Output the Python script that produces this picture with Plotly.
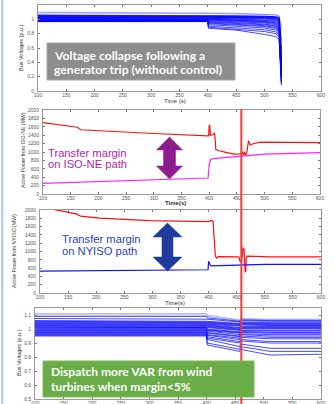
import plotly.graph_objects as go

W, H = 334, 404

# ---------------- data ----------------
TICKS_X = [100, 150, 200, 250, 300, 350, 400, 450, 500, 550, 600]

# Panel 1: bus voltages, voltage collapse (no control)
P1_T = [100, 400, 401, 450, 500, 520, 526, 530]
P1_V = [
    [1.100, 1.100, 1.090, 1.085, 1.075, 1.065, 1.050, 0.90],
    [1.090, 1.090, 1.080, 1.075, 1.070, 1.060, 1.040, 0.85],
    [1.060, 1.060, 1.055, 1.050, 1.045, 1.040, 1.030, 0.70],
    [1.055, 1.055, 1.050, 1.045, 1.040, 1.035, 1.020, 0.60],
    [1.050, 1.050, 1.045, 1.040, 1.035, 1.030, 1.010, 0.55],
    [1.045, 1.045, 1.040, 1.035, 1.030, 1.025, 1.000, 0.50],
    [1.040, 1.040, 1.035, 1.030, 1.025, 1.020, 0.990, 0.46],
    [1.035, 1.035, 1.030, 1.025, 1.020, 1.010, 0.980, 0.45],
    [1.030, 1.030, 1.025, 1.020, 1.015, 1.005, 0.970, 0.40],
    [1.025, 1.025, 1.020, 1.015, 1.005, 0.995, 0.960, 0.38],
    [1.020, 1.020, 1.015, 1.005, 0.995, 0.985, 0.950, 0.35],
    [1.015, 1.015, 1.005, 0.995, 0.985, 0.970, 0.930, 0.33],
    [1.010, 1.010, 1.000, 0.990, 0.975, 0.960, 0.920, 0.30],
    [1.005, 1.005, 0.995, 0.985, 0.970, 0.950, 0.900, 0.28],
    [1.000, 1.000, 0.990, 0.975, 0.960, 0.940, 0.890, 0.26],
    [0.995, 0.995, 0.980, 0.965, 0.950, 0.925, 0.870, 0.24],
    [0.990, 0.990, 0.970, 0.955, 0.935, 0.910, 0.860, 0.22],
    [0.985, 0.985, 0.960, 0.945, 0.925, 0.900, 0.850, 0.20],
    [0.980, 0.980, 0.950, 0.935, 0.910, 0.885, 0.840, 0.18],
    [0.978, 0.978, 0.940, 0.925, 0.900, 0.870, 0.820, 0.16],
    [0.975, 0.975, 0.925, 0.905, 0.880, 0.850, 0.800, 0.14],
    [0.972, 0.972, 0.905, 0.885, 0.855, 0.825, 0.780, 0.12],
    [0.970, 0.970, 0.890, 0.865, 0.830, 0.800, 0.755, 0.10],
    [0.968, 0.968, 0.875, 0.850, 0.790, 0.760, 0.720, 0.08],
]

# Panel 2: active power from ISO-NE (MW)
P2_RED_T = [100, 158, 162, 168, 200, 300, 398, 399, 400, 401, 402, 404, 407, 409, 410, 412,
            418, 430, 445, 455, 458, 460, 462, 464, 466, 468, 470, 471, 474, 478, 490, 500, 600]
P2_RED_V = [1700, 1600, 1590, 1530, 1505, 1440, 1385, 1385, 1640, 1630, 1400, 1400, 1410, 1445, 1420, 1060,
            1030, 990, 950, 955, 970, 1005, 930, 1000, 920, 990, 1150, 1270, 1170, 1190, 1230, 1235, 1225]
P2_MAG_T = [100, 200, 300, 397, 398, 400, 403, 413, 457, 480, 500, 550, 600]
P2_MAG_V = [255, 300, 340, 375, 380, 700, 830, 850, 888, 925, 950, 970, 985]

# Panel 3: active power from NYISO (MW)
P3_RED_T = [100, 127, 160, 166, 172, 206, 296, 390, 400, 405, 408, 410, 412, 414, 417, 450, 454,
            456, 458, 460, 461, 463, 464, 465, 466, 467, 469, 480, 500, 510, 600]
P3_RED_V = [2080, 2000, 1920, 1900, 1850, 1805, 1745, 1710, 1720, 1755, 1720, 1300, 900, 836, 875, 870, 865,
            760, 760, 900, 1077, 1060, 700, 513, 520, 850, 890, 885, 880, 870, 870]
P3_BLU_T = [100, 200, 300, 398, 399, 400, 401, 403, 405, 450, 500, 600]
P3_BLU_V = [525, 535, 545, 555, 560, 765, 720, 665, 652, 668, 690, 692]

# Panel 4: bus voltages with VAR dispatch
P4_T = [100, 400, 401, 458, 459, 511, 600]
P4_V = [
    [1.110, 1.110, 1.100, 1.065, 1.075, 1.070, 1.070],
    [1.100, 1.100, 1.090, 1.060, 1.070, 1.065, 1.065],
    [1.090, 1.090, 1.080, 1.055, 1.065, 1.060, 1.060],
    [1.075, 1.075, 1.070, 1.050, 1.060, 1.055, 1.055],
    [1.060, 1.060, 1.055, 1.040, 1.050, 1.045, 1.045],
    [1.055, 1.055, 1.050, 1.035, 1.045, 1.040, 1.040],
    [1.050, 1.050, 1.045, 1.030, 1.040, 1.035, 1.035],
    [1.045, 1.045, 1.040, 1.025, 1.035, 1.030, 1.030],
    [1.040, 1.040, 1.035, 1.020, 1.030, 1.025, 1.025],
    [1.035, 1.035, 1.030, 1.010, 1.020, 1.020, 1.020],
    [1.030, 1.030, 1.025, 1.005, 1.015, 1.015, 1.015],
    [1.025, 1.025, 1.020, 1.000, 1.010, 1.010, 1.010],
    [1.020, 1.020, 1.015, 0.995, 1.005, 1.005, 1.005],
    [1.015, 1.015, 1.010, 0.990, 1.000, 1.000, 1.000],
    [1.010, 1.010, 1.000, 0.980, 0.990, 0.990, 0.990],
    [1.005, 1.005, 0.995, 0.975, 0.985, 0.985, 0.985],
    [1.000, 1.000, 0.990, 0.970, 0.980, 0.975, 0.975],
    [0.995, 0.995, 0.985, 0.960, 0.975, 0.970, 0.970],
    [0.990, 0.990, 0.975, 0.950, 0.965, 0.960, 0.960],
    [0.985, 0.985, 0.970, 0.945, 0.960, 0.950, 0.950],
    [0.980, 0.980, 0.960, 0.935, 0.950, 0.940, 0.940],
    [0.975, 0.975, 0.955, 0.925, 0.940, 0.930, 0.930],
    [0.970, 0.970, 0.945, 0.910, 0.925, 0.910, 0.910],
    [0.965, 0.965, 0.935, 0.900, 0.915, 0.900, 0.900],
    [0.960, 0.960, 0.926, 0.874, 0.893, 0.862, 0.862],
    [0.955, 0.955, 0.900, 0.855, 0.875, 0.840, 0.840],
    [0.950, 0.950, 0.886, 0.840, 0.855, 0.814, 0.820],
]

TRIP_TIME = 458  # red vertical marker

# ---------------- helpers ----------------
def px(x):
    return x / W

def py(y):
    return 1 - y / H

fig = go.Figure()

def bus_lines(T, V, xa, ya):
    for i, row in enumerate(V):
        op = 0.35 if i < 2 else 0.8
        fig.add_trace(go.Scatter(x=T, y=row, mode="lines", xaxis=xa, yaxis=ya,
                                 line=dict(color=f"rgba(0,0,255,{op})", width=0.9),
                                 showlegend=False, hoverinfo="skip"))

bus_lines(P1_T, P1_V, "x", "y")
fig.add_trace(go.Scatter(x=P2_RED_T, y=P2_RED_V, mode="lines", xaxis="x2", yaxis="y2",
                         line=dict(color="#ff1010", width=1.2), showlegend=False))
fig.add_trace(go.Scatter(x=P2_MAG_T, y=P2_MAG_V, mode="lines", xaxis="x2", yaxis="y2",
                         line=dict(color="#ff20ff", width=1.2), showlegend=False))
fig.add_trace(go.Scatter(x=P3_RED_T, y=P3_RED_V, mode="lines", xaxis="x3", yaxis="y3",
                         line=dict(color="#ff1010", width=1.2), showlegend=False))
fig.add_trace(go.Scatter(x=P3_BLU_T, y=P3_BLU_V, mode="lines", xaxis="x3", yaxis="y3",
                         line=dict(color="#1010ff", width=1.2), showlegend=False))
bus_lines(P4_T, P4_V, "x4", "y4")

tickfont = dict(family="Liberation Sans, Arial, sans-serif", size=5, color="#555555")
axis_common = dict(showline=True, linecolor="#9a9a9a", linewidth=0.8, mirror="ticks",
                   ticks="inside", ticklen=2, tickcolor="#777777", tickwidth=0.7,
                   showgrid=False, zeroline=False, tickfont=tickfont, automargin=False)

def xaxis(l, r, anchor):
    return dict(domain=[px(l), px(r)], anchor=anchor, range=[100, 600], ticklabelstandoff=-1,
                tickvals=TICKS_X, ticktext=[str(v) for v in TICKS_X], **axis_common)

def yaxis(top, bottom, anchor, rng, vals, texts):
    return dict(domain=[py(bottom), py(top)], anchor=anchor, range=rng, ticklabelstandoff=2,
                tickvals=vals, ticktext=texts, **axis_common)

v1 = [0, 0.2, 0.4, 0.6, 0.8, 1.0]
p_vals = list(range(0, 2001, 200))
v4 = [0.5, 0.6, 0.7, 0.8, 0.9, 1.0, 1.1]

fig.update_layout(
    template="none",
    width=W, height=H, margin=dict(l=0, r=0, t=0, b=0, pad=0, autoexpand=False),
    paper_bgcolor="white", plot_bgcolor="white", showlegend=False,
    xaxis=xaxis(38, 321, "y"),
    yaxis=yaxis(5, 91, "x", [0, 1.2], v1, ["0", "0.2", "0.4", "0.6", "0.8", "1"]),
    xaxis2=xaxis(43, 320, "y2"),
    yaxis2=yaxis(110, 194, "x2", [0, 2000], p_vals, [str(v) for v in p_vals]),
    xaxis3=xaxis(40, 321, "y3"),
    yaxis3=yaxis(210, 293, "x3", [0, 2000], p_vals, [str(v) for v in p_vals]),
    xaxis4=xaxis(35, 321, "y4"),
    yaxis4=yaxis(308, 399, "x4", [0.5, 1.15], v4, ["0.5", "0.6", "0.7", "0.8", "0.9", "1", "1.1"]),
)

shapes = []
# left slide border strip
shapes.append(dict(type="rect", xref="paper", yref="paper", x0=px(1), x1=px(3.5), y0=0, y1=1,
                   fillcolor="#bcd0ea", line=dict(width=0), layer="below"))
# red vertical marker through panels 2-4
shapes.append(dict(type="line", xref="x2", yref="paper", x0=TRIP_TIME, x1=TRIP_TIME,
                   y0=0, y1=py(109), line=dict(color="#f23a3a", width=2)))
# gray box
shapes.append(dict(type="rect", xref="paper", yref="paper", x0=px(47), x1=px(235), y0=py(80), y1=py(43),
                   fillcolor="#8d8d8d", line=dict(color="#a5a5a5", width=1)))
# green box
shapes.append(dict(type="rect", xref="paper", yref="paper", x0=px(43), x1=px(254), y0=py(397), y1=py(361),
                   fillcolor="#6aac48", line=dict(color="#7dbb5c", width=1)))

def dbl_arrow(cx, top, hb1, hb2, bottom, sw, hw, color):
    pts = [(cx, top), (cx + hw, hb1), (cx + sw, hb1), (cx + sw, hb2), (cx + hw, hb2),
           (cx, bottom), (cx - hw, hb2), (cx - sw, hb2), (cx - sw, hb1), (cx - hw, hb1)]
    path = "M " + " L ".join(f"{px(a):.5f},{py(b):.5f}" for a, b in pts) + " Z"
    return dict(type="path", xref="paper", yref="paper", path=path,
                fillcolor=color, line=dict(color=color, width=0.5))

shapes.append(dbl_arrow(169.5, 137, 150, 166, 179, 6, 13, "#8e1c8e"))
shapes.append(dbl_arrow(167.5, 223, 237, 257, 271, 5.5, 14.5, "#1f3b9b"))
fig.update_layout(shapes=shapes)

ann = []
def label(text, x, y, size, color="#333333", angle=0, family="Liberation Sans, Arial, sans-serif",
          xanchor="center"):
    ann.append(dict(text=text, x=px(x), y=py(y), xref="paper", yref="paper", showarrow=False,
                    textangle=angle, xanchor=xanchor, yanchor="middle", borderpad=0,
                    font=dict(family=family, size=size, color=color)))

# axis titles
label("Bus Voltages (p.u.)", 21, 48, 5.5, angle=-90)
label("Time (s)", 175, 100.5, 6)
label("Active Power from ISO-NE (MW)", 23, 150, 5.2, angle=-90)
label("<b>Time(s)</b>", 175, 203, 6)
label("Active Power from NYISO (MW)", 14, 251, 5.2, angle=-90)
label("Time(s)", 175, 302.5, 6)
label("Bus Voltages (p.u.)", 19, 353, 5.5, angle=-90)

# callout texts
box_font = "Lato, Open Sans, sans-serif"
label("<b>Voltage collapse following a</b>", 53, 55, 12.2, color="white", family=box_font, xanchor="left")
label("<b>generator trip (without control)</b>", 53, 70, 12.2, color="white", family=box_font, xanchor="left")
label("Transfer margin", 47, 152.5, 11.2, color="#b01eb0", xanchor="left")
label("on ISO-NE path", 47, 163.5, 11.2, color="#b01eb0", xanchor="left")
label("Transfer margin", 61, 238.5, 11.2, color="#2a3fbf", xanchor="left")
label("on NYISO path", 61, 250.5, 11.2, color="#2a3fbf", xanchor="left")
label("<b>Dispatch more VAR from wind</b>", 50, 371.5, 12, color="white", family=box_font, xanchor="left")
label("<b>turbines when margin&lt;5%</b>", 50, 386, 12, color="white", family=box_font, xanchor="left")
fig.update_layout(annotations=ann)

fig.write_html("out.html", config={"displayModeBar": False},
               post_script="document.body.style.margin='0';document.body.style.padding='0';"
                           "document.documentElement.style.overflow='hidden';")
